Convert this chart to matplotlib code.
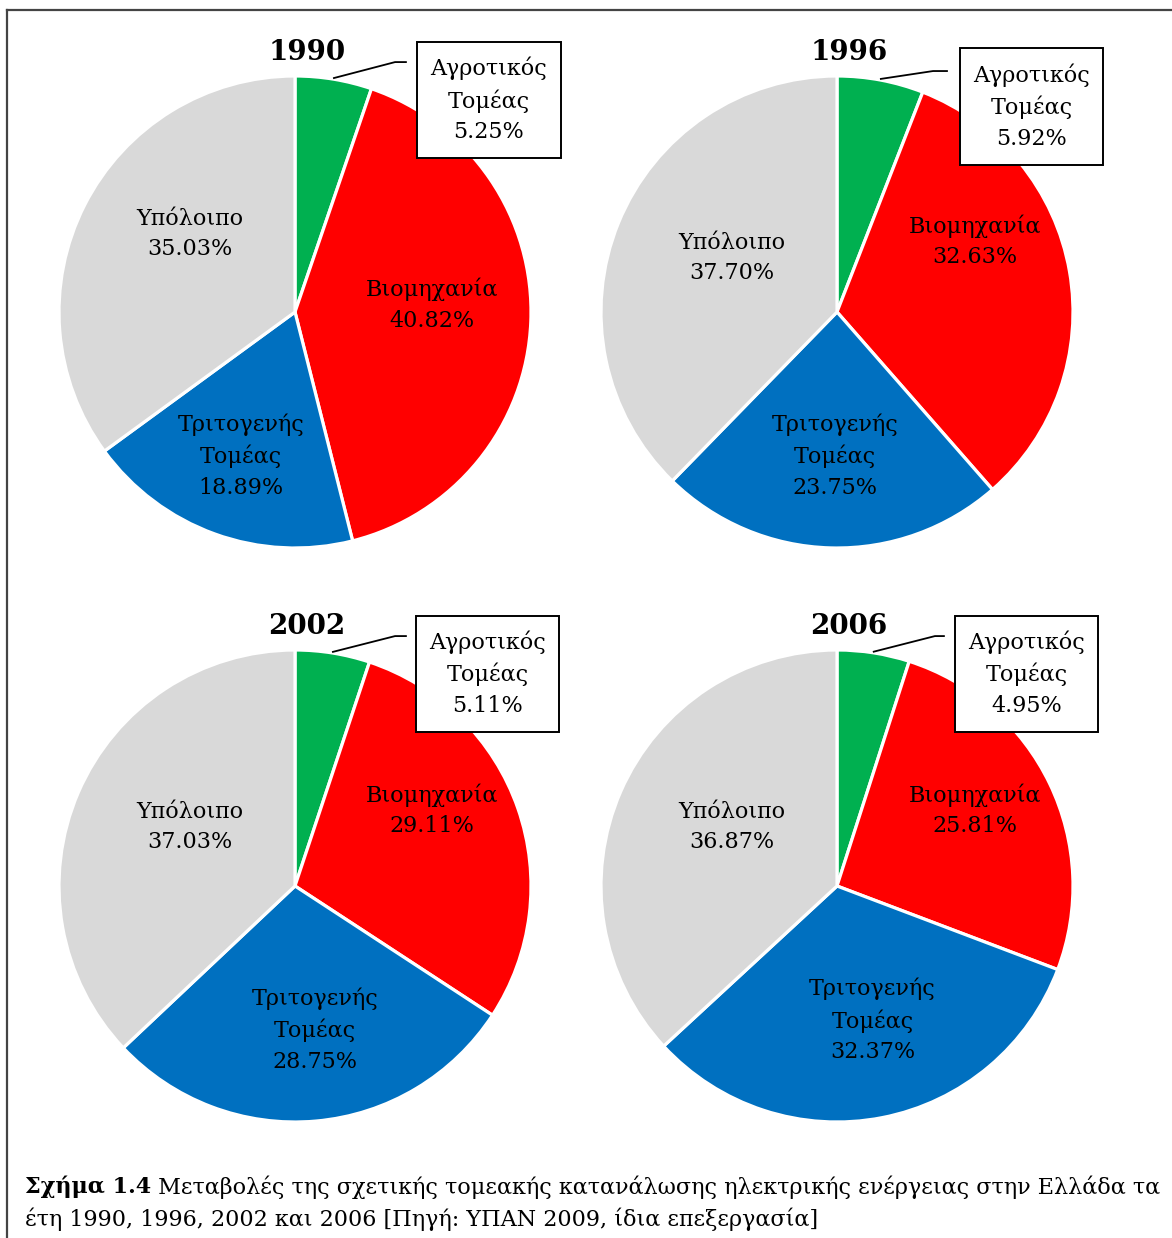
import matplotlib
matplotlib.use("Agg")
import matplotlib.pyplot as plt
from matplotlib.patches import Rectangle
from matplotlib.lines import Line2D
import numpy as np

# ---- data -------------------------------------------------------------
years = ["1990", "1996", "2002", "2006"]
sectors = ["Αγροτικός\nΤομέας", "Βιομηχανία", "Τριτογενής\nΤομέας", "Υπόλοιπο"]
share_1990 = [5.25, 40.82, 18.89, 35.03]
share_1996 = [5.92, 32.63, 23.75, 37.70]
share_2002 = [5.11, 29.11, 28.75, 37.03]
share_2006 = [4.95, 25.81, 32.37, 36.87]
shares = [share_1990, share_1996, share_2002, share_2006]

colors = ["#00B050", "#FF0000", "#0070C0", "#D9D9D9"]

caption_bold = "Σχήμα 1.4"
caption_rest = (" Μεταβολές της σχετικής τομεακής κατανάλωσης ηλεκτρικής ενέργειας στην Ελλάδα τα")
caption_line2 = "έτη 1990, 1996, 2002 και 2006 [Πηγή: ΥΠΑΝ 2009, ίδια επεξεργασία]"

# ---- layout (pixels / radius units) ----------------------------------
W, H, DPI = 1172, 1238, 100
R = 236
centers = [(295, 312), (837, 312), (295, 886), (837, 886)]
L = 1.25
# label centres for industry / tertiary / other slices, in radius units
label_pos = [
    [(0.58, 0.03), (-0.23, -0.61), (-0.445, 0.33)],
    [(0.585, 0.30), (-0.01, -0.61), (-0.445, 0.23)],
    [(0.58, 0.32), (0.085, -0.61), (-0.445, 0.25)],
    [(0.585, 0.32), (0.15, -0.57), (-0.445, 0.25)],
]
box_center = [(0.822, 0.898), (0.824, 0.871), (0.816, 0.900), (0.805, 0.900)]
box_size = (0.606, 0.492)
leader_mid = [(0.424, 1.059), (0.407, 1.021), (0.424, 1.059), (0.415, 1.059)]
leader_end = [(0.47, 1.059), (0.466, 1.021), (0.47, 1.059), (0.453, 1.059)]
title_pos = (0.05, 1.10)
LABEL_FS = 16
LABEL_LS = 1.5

FONT = "DejaVu Serif"
plt.rcParams["font.family"] = [FONT]

fig = plt.figure(figsize=(W / DPI, H / DPI), dpi=DPI)
fig.patch.set_facecolor("white")

for i, (cx, cy) in enumerate(centers):
    size = 2 * L * R
    ax = fig.add_axes([(cx - L * R) / W, 1 - (cy + L * R) / H, size / W, size / H])
    ax.set_xlim(-L, L)
    ax.set_ylim(-L, L)
    ax.set_aspect("equal")
    ax.axis("off")
    vals = shares[i]
    wedges, _ = ax.pie(vals, colors=colors, startangle=90, counterclock=False,
                       radius=1.0, wedgeprops=dict(edgecolor="white", linewidth=2.3))

    # labels for the three large slices
    for k in range(1, 4):
        x, y = label_pos[i][k - 1]
        ax.text(x, y, f"{sectors[k]}\n{vals[k]:.2f}%", ha="center", va="center",
                fontsize=LABEL_FS, linespacing=LABEL_LS, color="black")

    # callout for the agriculture slice
    w0 = wedges[0]
    mid = np.deg2rad((w0.theta1 + w0.theta2) / 2)
    start = (np.cos(mid) * 1.005, np.sin(mid) * 1.005)
    xs = [start[0], leader_mid[i][0], leader_end[i][0]]
    ys = [start[1], leader_mid[i][1], leader_end[i][1]]
    ax.add_line(Line2D(xs, ys, color="black", lw=1.3, clip_on=False))
    bx, by = box_center[i]
    bw, bh = box_size
    ax.add_patch(Rectangle((bx - bw / 2, by - bh / 2), bw, bh, facecolor="white",
                           edgecolor="black", lw=1.4, clip_on=False, zorder=5))
    ax.text(bx, by, f"{sectors[0]}\n{vals[0]:.2f}%", ha="center", va="center",
            fontsize=LABEL_FS, linespacing=LABEL_LS, color="black", zorder=6)

    ax.text(title_pos[0], title_pos[1], years[i], ha="center", va="center",
            fontsize=20, fontweight="bold", color="black")

# outer frame (top and left edges)
fig.add_artist(Line2D([7 / W, 1], [1 - 10 / H, 1 - 10 / H], color="#444444", lw=1.6))
fig.add_artist(Line2D([7 / W, 7 / W], [0, 1 - 10 / H], color="#444444", lw=1.6))

# caption
renderer = fig.canvas.get_renderer()
y1 = 1 - 1187 / H
y2 = 1 - 1219 / H
cap_fs = 16
t1 = fig.text(25 / W, y1, caption_bold, fontsize=cap_fs, fontweight="bold",
              ha="left", va="center")
bb = t1.get_window_extent(renderer)
fig.text(bb.x1 / W, y1, caption_rest, fontsize=cap_fs, ha="left", va="center")
fig.text(25 / W, y2, caption_line2, fontsize=cap_fs, ha="left", va="center")

fig.savefig("out.png", dpi=DPI, facecolor="white")
